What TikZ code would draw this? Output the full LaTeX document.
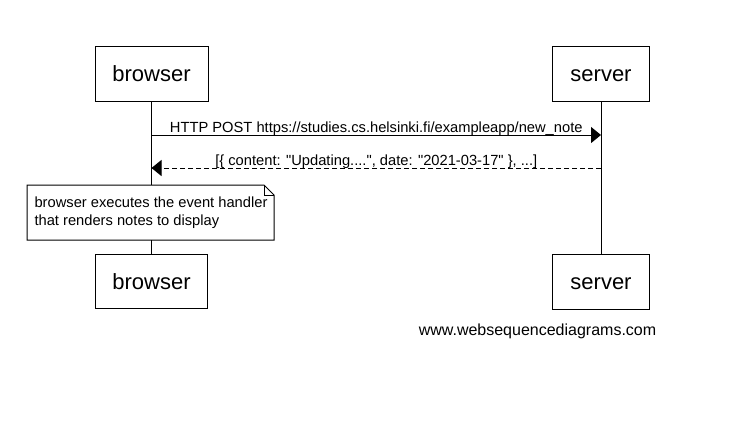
\documentclass[tikz,border=0pt]{standalone}
\usepackage{fontspec}
\setmainfont{Liberation Sans}[Ligatures=TeXOff]
\usetikzlibrary{arrows.meta,calc}
\begin{document}
\begin{tikzpicture}[x=1pt,y=-1pt,
  actor/.style={draw,line width=1pt,inner sep=0pt,text height=16pt,text depth=0pt,font=\fontsize{22}{26}\selectfont},
  life/.style={line width=1pt},
  msg/.style={line width=1pt,-{Triangle[length=10pt,width=16pt]}},
  ret/.style={line width=1pt,dash pattern=on 5pt off 3pt,-{Triangle[length=10pt,width=16pt]}},
  lbl/.style={font=\fontsize{14.7}{18}\selectfont,inner sep=0pt,anchor=base},
  notetext/.style={font=\fontsize{14.7}{18}\selectfont,align=left,inner sep=0pt},
  notebox/.style={line width=1pt,fill=white},
  wmark/.style={font=\fontsize{16}{19}\selectfont,inner sep=0pt,anchor=base}]
\useasboundingbox[fill=white] (0,0) rectangle (730,426);
% actors
\node[actor,minimum width=113pt,minimum height=55pt] (b1) at (151.5,73.5) {browser};
\node[actor,minimum width=97pt,minimum height=55pt] (s1) at (601,73.5) {server};
\node[actor,minimum width=112pt,minimum height=54pt] (b2) at (151.5,281) {browser};
\node[actor,minimum width=97pt,minimum height=55pt] (s2) at (601,281.5) {server};
% note
\coordinate (nw) at (27,185);
\coordinate (se) at (274,240);
\draw[notebox] (nw) -- ($(nw -| se)+(-10,0)$) -- ($(nw -| se)+(0,10)$) -- (se) -- (nw |- se) -- cycle;
\draw[line width=1pt] ($(nw -| se)+(-10,0)$) |- ($(nw -| se)+(0,10)$);
\node[notetext] (note) at ($(nw)!0.5!(se)+(0.5,0)$) {browser executes the event handler\\that renders notes to display};
% lifelines
\draw[life] (b1.south) -- (b1.south |- nw);
\draw[life] (b1.south |- se) -- (b2.north);
\draw[life] (s1.south) -- (s2.north);
% messages
\coordinate (p1) at (b1.south |- 0,135);
\coordinate (q1) at (s1.south |- 0,135);
\coordinate (p2) at (s1.south |- 0,168);
\coordinate (q2) at (b1.south |- 0,168);
\draw[msg] (p1) -- node[lbl,yshift=3pt] (l1) {HTTP POST https://studies.cs.helsinki.fi/exampleapp/new\_note} (q1);
\draw[ret] (p2) -- node[lbl,yshift=3pt] (l2) {[\{ content: "Updating....", date: "2021-03-17" \}, ...]} (q2);
% watermark
\node[wmark] (wm) at (537.5,335) {www.websequencediagrams.com};
\end{tikzpicture}
\end{document}
